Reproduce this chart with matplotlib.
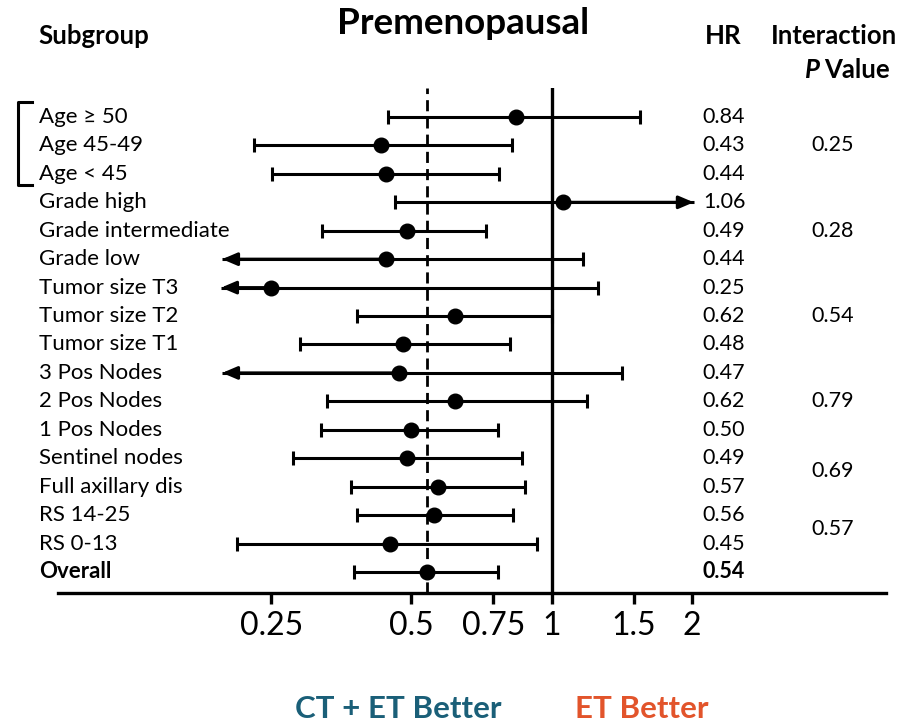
import matplotlib
matplotlib.use("Agg")
import matplotlib.pyplot as plt
from matplotlib.lines import Line2D
from matplotlib.transforms import blended_transform_factory

plt.rcParams['font.family'] = ['Lato', 'DejaVu Sans']

# Subgroup hazard ratios with 95% CI (premenopausal)
subgroups = ["Age \u2265 50", "Age 45-49", "Age < 45", "Grade high", "Grade intermediate",
             "Grade low", "Tumor size T3", "Tumor size T2", "Tumor size T1", "3 Pos Nodes",
             "2 Pos Nodes", "1 Pos Nodes", "Sentinel nodes", "Full axillary dis", "RS 14-25",
             "RS 0-13", "Overall"]
hr = [0.84, 0.43, 0.44, 1.06, 0.49, 0.44, 0.25, 0.62, 0.48, 0.47, 0.62, 0.50, 0.49, 0.57,
      0.56, 0.45, 0.54]
ci_lo = [0.445, 0.229, 0.251, 0.46, 0.321, 0.196, 0.195, 0.382, 0.288, 0.196, 0.329, 0.319,
         0.278, 0.370, 0.382, 0.211, 0.377]
ci_hi = [1.55, 0.823, 0.772, 2.02, 0.724, 1.17, 1.26, 1.0, 0.813, 1.414, 1.193, 0.768,
         0.862, 0.875, 0.826, 0.932, 0.768]
# CI runs off the scale -> arrow instead of cap
lo_arrow = [False, False, False, False, False, True, True, False, False, True, False, False,
            False, False, False, False, False]
hi_arrow = [False, False, False, True, False, False, False, False, False, False, False, False,
            False, False, False, False, False]

# interaction p-values, placed at a row position
p_rows = [1, 4, 7, 10, 12.45, 14.5]
p_vals = ["0.25", "0.28", "0.54", "0.79", "0.69", "0.57"]

xticks = [0.25, 0.5, 0.75, 1, 1.5, 2]
xtick_labels = ["0.25", "0.5", "0.75", "1", "1.5", "2"]

W, H = 916, 725
fig = plt.figure(figsize=(W / 100, H / 100), dpi=100)

def fx(x):
    return x / W

def fy(y):
    return 1 - y / H

ax = fig.add_axes([fx(58), fy(593), fx(886) - fx(58), fy(88) - fy(593)])
ax.set_xscale('log', base=2)
ax.set_xlim(0.087, 5.23)
ax.set_ylim(16.74, -1.02)
for s in ['top', 'left', 'right']:
    ax.spines[s].set_visible(False)
ax.spines['bottom'].set_linewidth(2.4)
ax.set_yticks([])
ax.set_xticks(xticks)
ax.set_xticklabels(xtick_labels, fontsize=23)
ax.minorticks_off()
ax.tick_params(axis='x', direction='out', length=8, width=2.4, pad=5)

lw = 2.2
ax.axvline(1, color='black', lw=2.4)
ax.axvline(hr[-1], color='black', lw=2.0, ls=(0, (4, 2.2)))

rows = list(range(len(subgroups)))
arrow_props = dict(arrowstyle='-|>,head_length=0.75,head_width=0.32', lw=lw, color='black',
                   mutation_scale=12, shrinkA=0, shrinkB=0)
for i in rows:
    ax.hlines(i, ci_lo[i], ci_hi[i], color='black', lw=lw)
    if lo_arrow[i]:
        ax.annotate('', xy=(ci_lo[i], i), xytext=(hr[i], i), arrowprops=arrow_props)
    else:
        ax.plot(ci_lo[i], i, marker='|', ms=10, mew=lw, color='black')
    if hi_arrow[i]:
        ax.annotate('', xy=(ci_hi[i], i), xytext=(hr[i], i), arrowprops=arrow_props)
    else:
        ax.plot(ci_hi[i], i, marker='|', ms=10, mew=lw, color='black')
ax.plot(hr, rows, 'o', color='black', ms=10.5, zorder=5)

# text columns: x in figure pixels, y in row units
tr = blended_transform_factory(fig.transFigure, ax.transData)
for i, name in enumerate(subgroups):
    bold = 'bold' if name == "Overall" else 'normal'
    fig.text(fx(39), i, name, transform=tr, fontsize=16, va='center', ha='left',
             fontweight=bold)
    fig.text(fx(724), i, f"{hr[i]:.2f}", transform=tr, fontsize=15.5, va='center',
             ha='center', fontweight=bold)
for r, p in zip(p_rows, p_vals):
    fig.text(fx(833), r, p, transform=tr, fontsize=15.5, va='center', ha='center')

# headers
fig.text(fx(38), fy(36), "Subgroup", fontsize=18.5, fontweight='bold', va='center')
fig.text(fx(463), fy(23), "Premenopausal", fontsize=26.5, fontweight='bold',
         va='center', ha='center')
fig.text(fx(723), fy(36), "HR", fontsize=18.5, fontweight='bold', va='center', ha='center')
fig.text(fx(834), fy(36), "Interaction", fontsize=18.5, fontweight='bold',
         va='center', ha='center')
fig.text(fx(820), fy(70), "P", fontsize=18.5, fontweight='bold', style='italic',
         va='center', ha='right')
fig.text(fx(824), fy(70), "Value", fontsize=18.5, fontweight='bold', va='center', ha='left')

# bracket around the age subgroups
fig.add_artist(Line2D([fx(32), fx(18), fx(18), fx(32)],
                      [fy(102), fy(102), fy(185), fy(185)],
                      color='black', lw=2.2, transform=fig.transFigure))

fig.text(fx(398), fy(709), "CT + ET Better", fontsize=22.5, fontweight='bold',
         color='#1a5f78', ha='center', va='center')
fig.text(fx(642), fy(709), "ET Better", fontsize=22.5, fontweight='bold',
         color='#e2542b', ha='center', va='center')

fig.savefig("out.png", dpi=100)
